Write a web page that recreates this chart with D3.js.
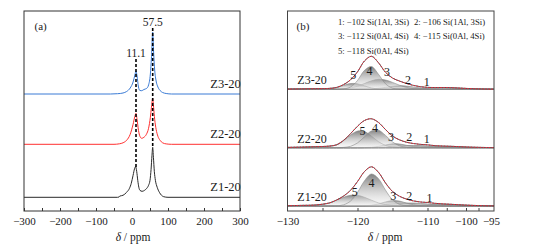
<!DOCTYPE html>
<html><head><meta charset="utf-8">
<script src="https://cdn.jsdelivr.net/npm/d3@7"></script>
<style>
body{margin:0;background:#fff}
svg{display:block}
text{font-family:"Liberation Serif","Times New Roman",serif;fill:#1a1a1a}
</style>
</head><body><svg id="c" width="541" height="251"></svg>
<script>
// ---------------- DATA ----------------
const samples = ["Z1-20", "Z2-20", "Z3-20"];
const aTickValues = [-300, -200, -100, 0, 100, 200, 300];
const bTickValues = [-130, -120, -110, -100, -95];
const peakPositions = [11.1, 57.5];

// Panel (a): 27Al MAS NMR spectra, [delta, intensity]
const specZ1 = [[-300,0],[-40,0],[-36,0.3],[-34,1.2],[-25,2],[-15,5],[-7,9],[-2,14],[3,22],[7,28.5],[10,30.6],[13,26],[16,17],[19,10],[22,7],[28,6],[35,7],[41,9],[46,12],[50,17],[53,28],[55.5,42],[57.5,50],[59.5,40],[62,26],[65,17],[70,10],[76,5],[82,2],[88,0.6],[100,0],[300,0]];
const specZ2 = [[-300,0],[-50,0],[-35,0.5],[-25,1.5],[-15,4],[-5,10],[3,20],[8,28],[11.1,31],[14,25],[18,14],[22,8],[27,6],[33,7],[40,10],[46,16],[51,27],[54,37],[57.5,46],[60,37],[63,25],[67,15],[72,8],[78,4],[85,1.5],[95,0.4],[110,0],[300,0]];
const specZ3 = [[-300,0],[-60,0],[-40,0.3],[-25,1],[-15,2.5],[-5,6],[3,12],[8,19],[11.1,23],[14,18],[18,7],[22,3.5],[27,3.3],[33,4.5],[41,5.7],[46,9],[51,20],[54,36],[57.5,62],[60,42],[63,24],[67,13],[72,7],[78,3.5],[85,1.5],[95,0.5],[110,0],[300,0]];

// Panel (b): 29Si deconvolution components (1..5) on a common delta grid
const gridB = [-130,-128,-126,-124,-123,-122,-121,-120,-119,-118,-117,-116,-115,-114,-113,-112,-111,-110,-108,-106,-104,-102,-100,-97.5,-95,-94.4];
const compsZ1 = [
  [0,0,0,0,0,0,0,0.04,0.07,0.1,0.17,0.24,0.36,0.5,0.68,0.88,1.1,1.3,1.66,1.8,1.66,1.3,0.88,0.42,0.16,0.13],
  [0,0,0,0,0,0,0.05,0.1,0.3,0.6,1.0,1.5,2.1,2.6,3.0,3.0,2.6,2.1,1.0,0.3,0.05,0,0,0,0,0],
  [0,0,0,0,0,0,0,0,0.2,0.7,2.1,4.1,5.4,4.9,2.9,1.2,0.3,0.1,0,0,0,0,0,0,0,0],
  [0,0,0,0,0.2,1.2,4.9,13.6,25.2,32,27.3,15.8,6.2,1.6,0.3,0,0,0,0,0,0,0,0,0,0,0],
  [0.3,0.6,1.0,3.1,5.8,8.7,10.7,10.7,8.7,5.8,3.1,1.4,0.5,0.14,0.03,0,0,0,0,0,0,0,0,0,0,0]
];
const compsZ2 = [
  [0,0,0,0,0,0,0,0.03,0.06,0.08,0.14,0.2,0.3,0.42,0.57,0.73,0.92,1.08,1.38,1.5,1.38,1.08,0.73,0.35,0.13,0.11],
  [0,0,0,0,0,0,0,0.01,0.05,0.13,0.3,0.64,1.1,1.7,2.1,2.3,2.1,1.7,0.64,0.13,0.01,0,0,0,0,0],
  [0,0,0,0,0,0,0,0,0.1,0.4,1.3,2.7,3.9,3.7,2.4,1.1,0.3,0.07,0,0,0,0,0,0,0,0],
  [0,0,0,0,0,0.3,1.4,4.8,10.9,16.8,17.5,12.3,5.8,1.9,0.4,0.05,0,0,0,0,0,0,0,0,0,0],
  [0.3,0.6,1.0,1.6,2.9,7.0,12.6,16.6,16.1,11.5,6.0,2.3,0.6,0.13,0,0,0,0,0,0,0,0,0,0,0,0]
];
const compsZ3 = [
  [0,0,0,0,0,0,0,0.04,0.07,0.1,0.17,0.24,0.36,0.5,0.68,0.88,1.1,1.3,1.66,1.8,1.66,1.3,0.88,0.42,0.16,0.13],
  [0,0,0,0,0,0,0,0.03,0.12,0.39,1.0,1.9,2.9,3.5,3.2,2.3,1.3,0.58,0.05,0,0,0,0,0,0,0],
  [0,0,0,0,0.13,0.46,1.35,3.1,5.8,8.5,10,9.3,6.9,4.1,1.9,0.7,0.2,0.05,0,0,0,0,0,0,0,0],
  [0,0,0,0,0.03,0.32,2.3,8.8,19,22.7,15,5.5,1.1,0.13,0,0,0,0,0,0,0,0,0,0,0,0],
  [0.2,0.4,0.6,0.9,1.7,3.9,5.8,5.5,3.4,1.3,0.34,0.05,0,0,0,0,0,0,0,0,0,0,0,0,0,0]
];
// component label anchors [delta, intensity] for labels "1".."5"
const labelsZ1 = [[-109.5,7.7],[-112.6,10],[-114.9,10],[-118,23.3],[-120.4,14.3]];
const labelsZ2 = [[-110.1,8.7],[-112.6,11],[-115.2,11],[-117.5,19.4],[-119.3,16.7]];
const labelsZ3 = [[-110.1,7.6],[-112.8,9.3],[-115.8,17.6],[-118.3,18.3],[-120.6,14.3]];
const legendLines = ["1: −102 Si(1Al, 3Si)", "2: −106 Si(1Al, 3Si)", "3: −112 Si(0Al, 4Si)", "4: −115 Si(0Al, 4Si)", "5: −118 Si(0Al, 4Si)"];

// ---------------- LAYOUT ----------------
const svg = d3.select("#c");
const fmt = d => String(d).replace("-", "\u2212");
const aX = d3.scaleLinear().domain([-300, 300]).range([24, 240]);
const aY = d3.scaleLinear().domain([0, 200]).range([211, 11]);
const bX = d3.scaleLinear().domain([-130, -120, -110, -100, -95, -94.4]).range([287.5, 357.5, 427.5, 466, 491, 494]);
const bY = d3.scaleLinear().domain([0, 200]).range([211, 11]);
const aOffsets = [13.7, 66.7, 117];
const bOffsets = [5, 63.3, 121.7];
const aColors = ["#2a2a2a", "#ff3030", "#3a7bd5"];

const defs = svg.append("defs");
const gr = defs.append("linearGradient").attr("id", "cg").attr("x1", 0).attr("y1", 0).attr("x2", 0).attr("y2", 1);
gr.append("stop").attr("offset", "0%").attr("stop-color", "#6a6a6a").attr("stop-opacity", 0.85);
gr.append("stop").attr("offset", "100%").attr("stop-color", "#f4f4f4").attr("stop-opacity", 0.35);

// ---------- Panel (a) ----------
const gA = svg.append("g");
const specs = [specZ1, specZ2, specZ3];
specs.forEach((s, i) => {
  const line = d3.line().x(d => aX(d[0])).y(d => aY(aOffsets[i] + d[1])).curve(d3.curveMonotoneX);
  gA.append("path").attr("d", line(s)).attr("fill", "none").attr("stroke", aColors[i]).attr("stroke-width", 1);
  gA.append("text").attr("x", aX(260)).attr("y", aY(aOffsets[i]) - 6).attr("text-anchor", "middle")
    .attr("font-size", 12.5).text(samples[i]);
});
// dashed guide lines to Z1 peaks
const interpZ1 = x => {
  const i = d3.bisector(d => d[0]).left(specZ1, x);
  const p0 = specZ1[Math.max(0, i - 1)], p1 = specZ1[i];
  const t = p1[0] === p0[0] ? 0 : (x - p0[0]) / (p1[0] - p0[0]);
  return p0[1] + t * (p1[1] - p0[1]);
};
const labelYs = [53, 22];
peakPositions.forEach((p, k) => {
  gA.append("line").attr("x1", aX(p)).attr("x2", aX(p))
    .attr("y1", labelYs[k] + 6).attr("y2", aY(aOffsets[0] + interpZ1(p)))
    .attr("stroke", "#000").attr("stroke-width", 1.6).attr("stroke-dasharray", "3,2");
  gA.append("text").attr("x", aX(p)).attr("y", labelYs[k] + 4).attr("text-anchor", "middle")
    .attr("font-size", 11.5).text(p.toFixed(1));
});
gA.append("rect").attr("x", 24).attr("y", 11).attr("width", 216).attr("height", 200)
  .attr("fill", "none").attr("stroke", "#333").attr("stroke-width", 1);
const axA = gA.append("g").attr("transform", "translate(0,211)")
  .call(d3.axisBottom(aX).tickValues(d3.range(-300, 301, 50)).tickSize(-3).tickPadding(6)
    .tickFormat(d => aTickValues.includes(d) ? fmt(d) : ""));
axA.select(".domain").remove();
axA.selectAll("text").attr("font-size", 11).attr("font-family", "Liberation Serif, serif").attr("fill", "#1a1a1a");
axA.selectAll("line").attr("stroke", "#333");
gA.append("text").attr("x", 40.7).attr("y", 30).attr("text-anchor", "middle").attr("font-size", 11).text("(a)");
const tA = gA.append("text").attr("x", 133).attr("y", 241).attr("text-anchor", "middle").attr("font-size", 11.5);
tA.append("tspan").attr("font-style", "italic").text("δ");
tA.append("tspan").text(" / ppm");

// ---------- Panel (b) ----------
const gB = svg.append("g");
const comps = [compsZ1, compsZ2, compsZ3];
const labs = [labelsZ1, labelsZ2, labelsZ3];
const drawOrder = [0, 1, 2, 4, 3];
comps.forEach((cs, i) => {
  const off = bOffsets[i];
  const area = d3.area().x((d, j) => bX(gridB[j])).y0(bY(off)).y1(d => bY(off + d)).curve(d3.curveCatmullRom);
  drawOrder.forEach(c => {
    gB.append("path").attr("d", area(cs[c])).attr("fill", "url(#cg)")
      .attr("stroke", "#8a8a8a").attr("stroke-width", 0.6);
  });
  const env = gridB.map((x, j) => d3.sum(cs, c => c[j]));
  const line = d3.line().x((d, j) => bX(gridB[j])).y(d => bY(off + d)).curve(d3.curveCatmullRom);
  gB.append("path").attr("d", line(env)).attr("fill", "none").attr("stroke", "#555").attr("stroke-width", 1);
  gB.append("path").attr("d", line(env)).attr("fill", "none").attr("stroke", "#e8283a").attr("stroke-width", 1)
    .attr("stroke-dasharray", "1.6,1.4");
  labs[i].forEach((l, k) => {
    gB.append("text").attr("x", bX(l[0])).attr("y", bY(off + l[1]) + 4).attr("text-anchor", "middle")
      .attr("font-size", 12).text(String(k + 1));
  });
  gB.append("text").attr("x", 312).attr("y", bY(off) - 5).attr("text-anchor", "middle")
    .attr("font-size", 12).text(samples[i]);
});
gB.append("rect").attr("x", 287.5).attr("y", 11).attr("width", 206.5).attr("height", 200)
  .attr("fill", "none").attr("stroke", "#444").attr("stroke-width", 1);
const axB = gB.append("g").attr("transform", "translate(0,211)")
  .call(d3.axisBottom(bX).tickValues([-125, -120, -115, -110, -105, -100, -97.5]).tickSize(-3).tickFormat(""));
axB.select(".domain").remove();
axB.selectAll("line").attr("stroke", "#444");
const axB2 = gB.append("g").attr("transform", "translate(0,211)")
  .call(d3.axisBottom(bX).tickValues(bTickValues).tickSize(0).tickPadding(6).tickFormat(fmt));
axB2.select(".domain").remove();
axB2.selectAll("text").attr("font-size", 11).attr("font-family", "Liberation Serif, serif").attr("fill", "#1a1a1a");
gB.append("text").attr("x", 303).attr("y", 30).attr("text-anchor", "middle").attr("font-size", 11).text("(b)");
const legPos = [[338, 24.5], [414, 24.5], [338, 38.5], [414, 38.5], [338, 53.5]];
legendLines.forEach((t, k) => {
  gB.append("text").attr("x", legPos[k][0]).attr("y", legPos[k][1]).attr("font-size", 8.7).text(t);
});
const tB = gB.append("text").attr("x", 385).attr("y", 241).attr("text-anchor", "middle").attr("font-size", 11.5);
tB.append("tspan").attr("font-style", "italic").text("δ");
tB.append("tspan").text(" / ppm");
</script>
</body></html>
